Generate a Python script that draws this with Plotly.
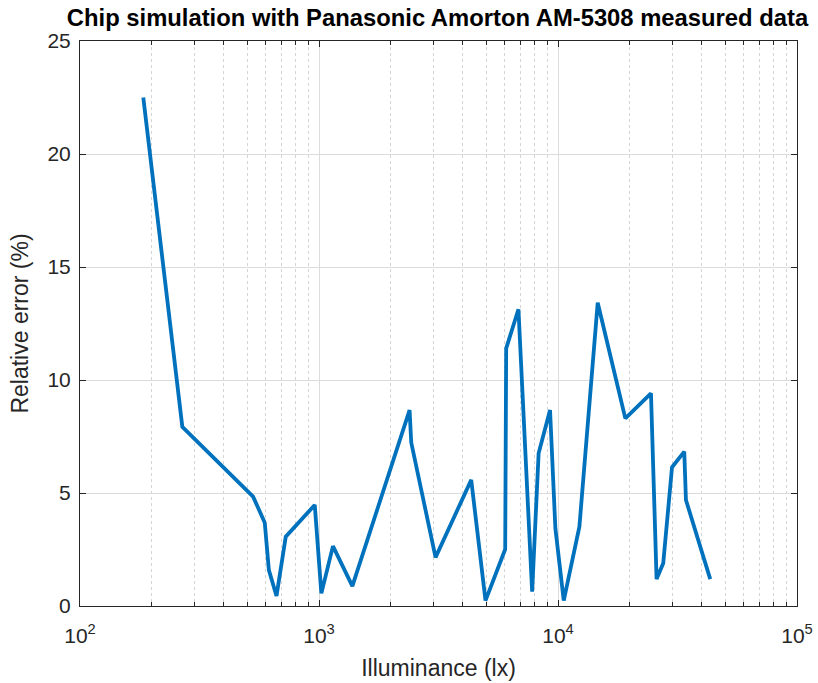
import plotly.graph_objects as go

lux = [184, 268, 530, 593, 617, 664, 726, 960, 1023, 1144, 1379, 2393, 2432, 3074,
       4335, 4973, 6012, 6070, 6831, 7795, 8298, 9262, 9750, 10570, 12290, 14660,
       19130, 24490, 25850, 27560, 29990, 33750, 34300, 43350]
rel_err = [22.5, 7.93, 4.84, 3.69, 1.59, 0.44, 3.07, 4.47, 0.56, 2.65, 0.88, 8.67, 7.23, 2.15,
           5.58, 0.24, 2.51, 11.4, 13.13, 0.63, 6.76, 8.67, 3.44, 0.24, 3.51, 13.42,
           8.3, 9.41, 1.19, 1.89, 6.14, 6.83, 4.69, 1.19]

x_major = [100, 1000, 10000, 100000]
x_major_text = ["10<sup>2</sup>", "10<sup>3</sup>", "10<sup>4</sup>", "10<sup>5</sup>"]
y_ticks = [0, 5, 10, 15, 20, 25]
minor_vals = [m * d for d in (100, 1000, 10000) for m in range(2, 10)]

fig = go.Figure()
fig.add_trace(go.Scatter(x=lux, y=rel_err, mode="lines",
                         line=dict(color="#0072BD", width=3.8)))

font = "Liberation Sans, Arial, sans-serif"
fig.update_layout(
    width=818, height=683,
    margin=dict(l=80, r=21, t=41, b=77, autoexpand=False),
    paper_bgcolor="white", plot_bgcolor="white",
    showlegend=False,
    title=dict(text="<b>Chip simulation with Panasonic Amorton AM-5308 measured data</b>",
               x=437.5 / 818, xanchor="center", xref="container",
               y=1 - 18 / 683, yref="container", yanchor="middle",
               font=dict(family=font, size=23.8, color="black")),
    font=dict(family=font, color="#262626"),
)
fig.update_xaxes(
    type="log", range=[2, 5], automargin=False,
    tickmode="array", tickvals=x_major, ticktext=x_major_text,
    tickfont=dict(size=21, color="#262626"),
    ticks="inside", ticklen=6, tickcolor="#262626",
    ticklabelstandoff=11,
    showline=True, linecolor="#262626", linewidth=1, mirror="ticks",
    showgrid=True, gridcolor="#dcdcdc", gridwidth=1,
    minor=dict(tickmode="array", tickvals=minor_vals, ticks="inside", ticklen=4,
               tickcolor="#262626", showgrid=True, gridcolor="#d4d4d4",
               griddash="dot", gridwidth=1),
    title=dict(text="Illuminance (lx)", font=dict(size=23, color="#262626"), standoff=13),
    zeroline=False,
)
fig.update_yaxes(
    range=[0, 25], automargin=False,
    tickmode="array", tickvals=y_ticks,
    tickfont=dict(size=21, color="#262626"),
    ticks="inside", ticklen=6, tickcolor="#262626",
    ticklabelstandoff=4,
    showline=True, linecolor="#262626", linewidth=1, mirror="ticks",
    showgrid=True, gridcolor="#dcdcdc", gridwidth=1,
    title=dict(text="Relative error (%)", font=dict(size=23, color="#262626"), standoff=12),
    zeroline=False,
)

fig.write_html("out.html")
